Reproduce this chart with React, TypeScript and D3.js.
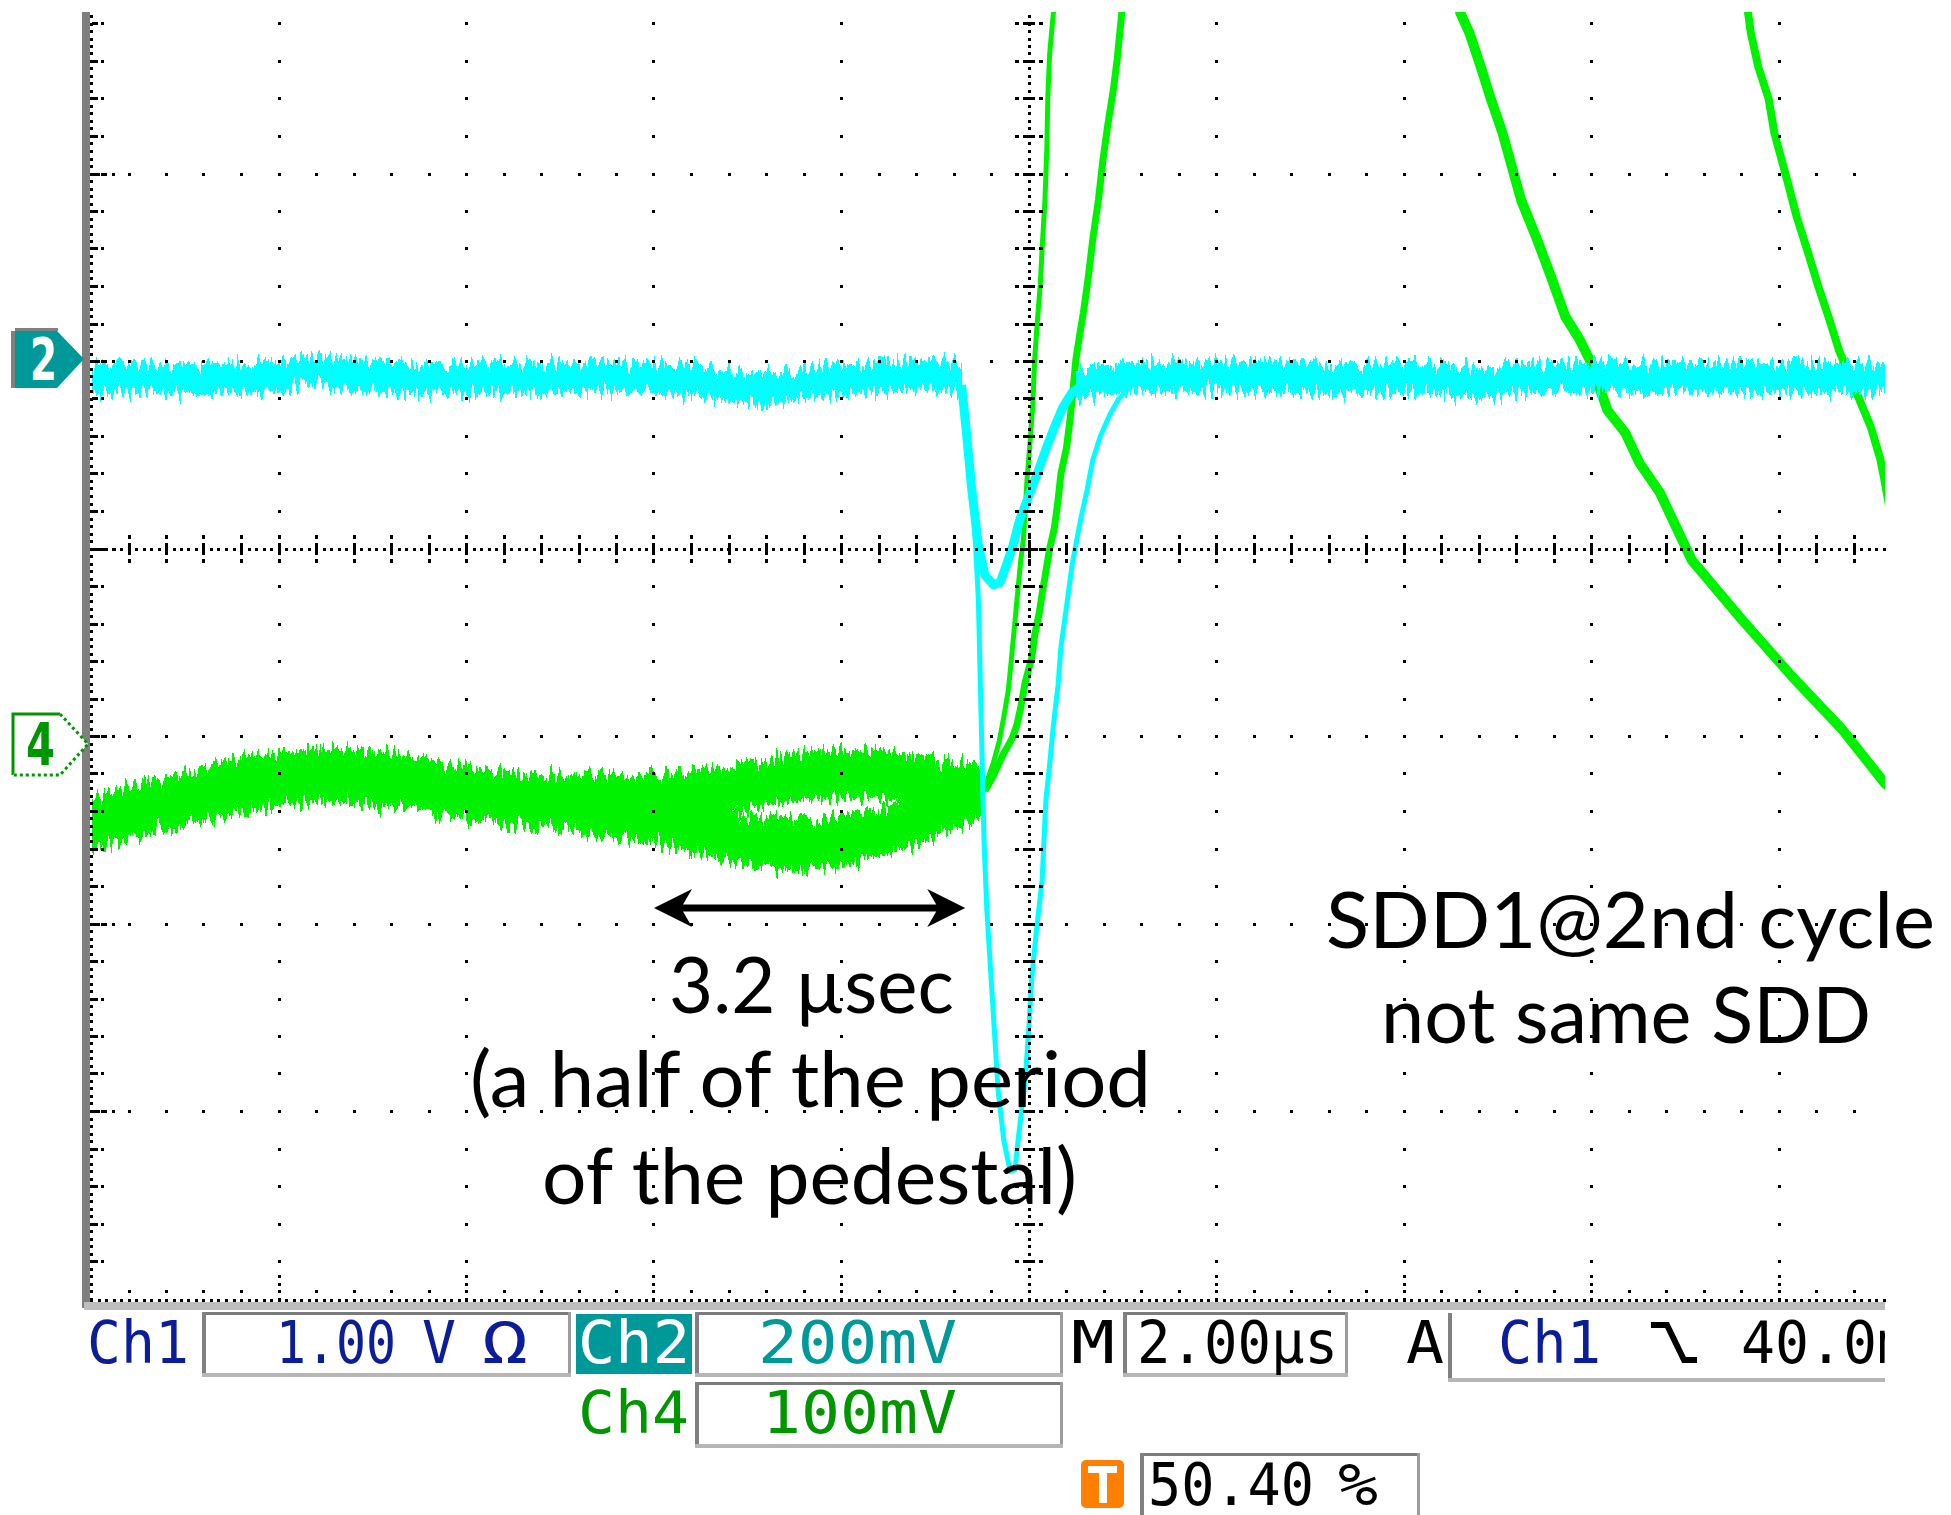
import React from 'react';
import * as d3 from 'd3';

// ---------------- scope settings ----------------
const CH2_MV_DIV = 200;
const CH4_MV_DIV = 100;
const CH2_POSITION_DIV = 1.02;
const CH4_POSITION_DIV = -1.04;

// ---------------- data (time in µs, voltage in mV) ----------------
// Ch4 pedestal, two overlapping sweeps
const PED_T = [-10, -9.6, -9.2, -8.8, -8.4, -8.0, -7.6, -7.2, -6.8, -6.4, -6.0, -5.6, -5.2, -4.8, -4.4, -4.0, -3.6, -3.2, -2.8, -2.4, -2.0, -1.6, -1.2, -0.8, -0.5];
const CH4_SWEEP_A = [-41.6, -35.7, -30.4, -25.6, -20.3, -17.1, -15.5, -15.5, -17.6, -21.3, -24.5, -27.2, -28.8, -29.9, -29.9, -29.3, -27.2, -24.0, -20.3, -17.1, -16.0, -16.0, -18.7, -21.3, -23.5];
const CH4_SWEEP_B = [-43.7, -38.4, -33.1, -28.3, -22.9, -19.7, -18.1, -18.7, -20.3, -23.5, -26.7, -29.3, -32.0, -34.1, -37.3, -40.5, -44.8, -49.6, -52.8, -53.9, -51.7, -46.9, -41.1, -32.5, -25.6];

// Ch4 rising edges after the trigger
const CH4_EDGE_A_T = [-0.52, -0.47, -0.38, -0.32, -0.27, -0.22, -0.19, -0.16, -0.13, -0.09, -0.06, -0.04, -0.02, 0.01, 0.04, 0.06, 0.09, 0.12, 0.14, 0.17, 0.19, 0.20, 0.22, 0.26, 0.28];
const CH4_EDGE_A_MV = [-30, -23, -10, 1, 14, 29, 44, 60, 76, 97, 109, 125, 142, 160, 181, 205, 226, 245, 264, 290, 317, 344, 368, 390, 405];
const CH4_EDGE_B_T = [-0.47, -0.38, -0.28, -0.18, -0.13, -0.09, -0.04, 0.03, 0.06, 0.11, 0.14, 0.18, 0.22, 0.27, 0.31, 0.34, 0.40, 0.44, 0.47, 0.50, 0.54, 0.58, 0.63, 0.68, 0.74, 0.79, 0.84, 0.90, 0.94, 0.99, 1.02];
const CH4_EDGE_B_MV = [-25, -17, -6, 3, 10, 19, 33, 46, 58, 70, 80, 92, 104, 115, 130, 144, 158, 174, 189, 205, 218, 230, 248, 269, 290, 312, 330, 349, 365, 390, 405];

// Ch4 decaying tails (2nd cycle)
const CH4_TAIL_A_T = [4.57, 4.60, 4.70, 4.82, 4.92, 5.05, 5.15, 5.25, 5.42, 5.57, 5.72, 5.87, 5.98, 6.17, 6.36, 6.51, 6.73, 7.07, 7.61, 8.14, 8.67, 9.13, 9.3];
const CH4_TAIL_A_MV = [405, 390, 379, 361, 345, 326, 308, 290, 269, 249, 228, 216, 205, 178, 166, 150, 134, 98, 66, 36, 8, -21, -28];
const CH4_TAIL_B_T = [7.65, 7.67, 7.70, 7.78, 7.89, 7.95, 8.08, 8.19, 8.31, 8.42, 8.54, 8.64, 8.83, 8.98, 9.08, 9.12, 9.2];
const CH4_TAIL_B_MV = [405, 390, 379, 361, 344, 326, 302, 281, 262, 244, 226, 210, 187, 169, 152, 142, 120];

// Ch2 baseline before and after the pulse
const CH2_PRE_T = [-10, -9.6, -9.2, -8.8, -8.4, -8.0, -7.6, -7.2, -6.8, -6.4, -6.0, -5.6, -5.2, -4.8, -4.4, -4.0, -3.6, -3.2, -2.8, -2.4, -2.0, -1.6, -1.2, -0.8, -0.72];
const CH2_PRE_MV = [-20.3, -21.3, -21.3, -22.4, -21.3, -19.2, -13.9, -19.2, -21.3, -22.4, -22.4, -21.3, -22.4, -20.3, -20.3, -21.3, -24.5, -29.9, -34.1, -26.7, -22.4, -20.3, -18.1, -19.2, -21.3];
const CH2_POST_T = [0.5, 0.8, 1.2, 1.6, 2.0, 2.4, 2.8, 3.2, 3.6, 4.0, 4.4, 4.8, 5.2, 5.6, 6.0, 6.4, 6.8, 7.2, 7.6, 8.0, 8.4, 8.8, 9.2];
const CH2_POST_MV = [-27.7, -22.4, -20.3, -19.2, -20.3, -20.3, -21.3, -22.4, -22.4, -21.3, -22.4, -28.0, -22.4, -20.3, -20.3, -21.3, -21.3, -20.3, -20.3, -20.3, -21.3, -21.3, -21.3];

// Ch2 negative pulses (two sweeps)
const CH2_SHALLOW_T = [-0.72, -0.67, -0.61, -0.54, -0.47, -0.38, -0.31, -0.24, -0.17, -0.10, -0.02, 0.09, 0.19, 0.28, 0.36, 0.46, 0.60, 0.76];
const CH2_SHALLOW_MV = [-29, -77, -141, -200, -232, -242, -240, -221, -200, -173, -152, -123, -95, -72, -53, -37, -27, -24];
const CH2_DEEP_T = [-0.72, -0.67, -0.61, -0.57, -0.54, -0.52, -0.50, -0.48, -0.45, -0.41, -0.37, -0.33, -0.27, -0.20, -0.15, -0.11, -0.04, 0.00, 0.03, 0.08, 0.14, 0.16, 0.18, 0.22, 0.26, 0.31, 0.34, 0.41, 0.46, 0.51, 0.56, 0.62, 0.68, 0.76, 0.86, 0.95, 1.06, 1.18];
const CH2_DEEP_MV = [-29, -77, -141, -200, -258, -344, -429, -514, -589, -653, -717, -781, -834, -868, -866, -829, -770, -712, -661, -610, -557, -514, -472, -434, -392, -349, -309, -258, -221, -194, -168, -141, -109, -84, -61, -45, -32, -26];

// annotation arrow (µs, div)
const ARROW_T = [-4.0, -0.68];
const ARROW_DIV = -1.915;

// readout texts
const READOUT_CH1 = 'Ch1';
const READOUT_CH1_SCALE = ['1.00', 'V', 'Ω'];
const READOUT_CH2 = 'Ch2';
const READOUT_CH2_SCALE = '200mV';
const READOUT_CH4 = 'Ch4';
const READOUT_CH4_SCALE = '100mV';
const READOUT_TIME = '2.00µs';
const READOUT_TRIG_LEVEL = '40.0mV';
const READOUT_TRIG_POS = ['50.40', '%'];

const ANNOT_LINES = ['3.2 µsec', '(a half of the period', 'of the pedestal)'];
const NOTE_LINES = ['SDD1@2nd cycle', 'not same SDD'];

const CYAN = '#00ffff';
const GREEN = '#00f200';
const TEAL = '#009999';
const BLUE = '#0b1d98';
const DKGREEN = '#009600';
const PANEL_FONT = '"DejaVu Sans Mono", monospace';
const ANNOT_FONT = 'Lato, "Open Sans", sans-serif';

function Box({ x, y, w, h, top = true, right = true }: any) {
  return (
    <g>
      {top && <rect x={x} y={y} width={w} height={3} fill="#7b7b7b" />}
      <rect x={x} y={y} width={4} height={h} fill="#808080" />
      {right && <rect x={x + w - 3} y={y} width={3} height={h} fill="#9c9c9c" />}
      <rect x={x} y={y + h - 4} width={w} height={4} fill="#b6b6b6" />
    </g>
  );
}

export default function App() {
  const xS = d3.scaleLinear().domain([-10, 10]).range([91.5, 1966.5]);
  const yS = d3.scaleLinear().domain([-4, 4]).range([1299, -201]);
  const y2 = d3.scaleLinear().domain([(-4 - CH2_POSITION_DIV) * CH2_MV_DIV, (4 - CH2_POSITION_DIV) * CH2_MV_DIV]).range([1299, -201]);
  const y4 = d3.scaleLinear().domain([(-4 - CH4_POSITION_DIV) * CH4_MV_DIV, (4 - CH4_POSITION_DIV) * CH4_MV_DIV]).range([1299, -201]);

  const band = (ts: number[], vs: number[], ys: any, half: number) =>
    d3.area<number>().x((_, i) => xS(ts[i])).y0((_, i) => ys(vs[i]) - half).y1((_, i) => ys(vs[i]) + half)(ts) || '';
  const line = (ts: number[], vs: number[], ys: any) =>
    d3.line<number>().x((_, i) => xS(ts[i])).y((_, i) => ys(vs[i]))(ts) || '';

  // ---------- graticule ----------
  const pts: string[] = [];
  const sq = (cx: number, cy: number, w = 3, h = 3) => {
    pts.push(`M${Math.round(cx - w / 2)},${Math.round(cy - h / 2)}h${w}v${h}h${-w}z`);
  };
  const xRight = 1885;
  const yTop = 12;
  const tMax = xS.invert(xRight);
  const dMax = yS.invert(yTop + 2);
  const x0 = xS(0);
  const yc = yS(0);
  const xL = xS(-10);
  const yB = yS(-4);
  for (let k = 0; ; k++) {
    const d = -4 + k * 0.04;
    if (d > dMax) break;
    const y = yS(d);
    sq(xL, y);
    sq(x0, y);
  }
  for (let k = 0; ; k++) {
    const d = -4 + k * 0.2;
    if (d > dMax) break;
    const y = yS(d);
    if (k > 0) {
      sq(xL + 3, y, 6, 3);
      sq(xL + 10.5, y);
      sq(x0 - 12, y, 4, 3);
      sq(x0, y, 12, 3);
      sq(x0 + 12, y, 4, 3);
    }
    for (let t = -8; t <= 8; t += 2) if (t !== 0) sq(xS(t), y);
  }
  for (let d = -3; d <= 2; d++) {
    const y = yS(d);
    sq(xL + 6.5, y);
    sq(xL + 14, y);
    sq(xL + 21.5, y);
    if (d === 0) continue;
    for (let k = 1; ; k++) {
      const t = -10 + k * 0.4;
      if (t > tMax) break;
      sq(xS(t), y);
    }
  }
  for (let k = 0; ; k++) {
    const t = -10 + k * 0.08;
    if (t > tMax) break;
    const x = xS(t);
    sq(x, yc);
    sq(x, yB + 1);
  }
  for (let k = 1; ; k++) {
    const t = -10 + k * 0.4;
    if (t > tMax) break;
    const x = xS(t);
    sq(x, yc - 12, 3, 4);
    sq(x, yc, 3, 12);
    sq(x, yc + 12, 3, 4);
    sq(x, yB - 7.5);
    if (k % 5 === 0) {
      sq(x, yB - 15);
      sq(x, yB - 22.5);
    }
  }
  const gridPath = pts.join('');

  // arrow
  const ax0 = xS(ARROW_T[0]);
  const ax1 = xS(ARROW_T[1]);
  const ay = yS(ARROW_DIV);
  const headL = 38, headH = 19, notch = 9;
  const arrowPath =
    `M${ax0},${ay}L${ax0 + headL},${ay - headH}L${ax0 + headL - notch},${ay - 3.5}` +
    `L${ax1 - headL + notch},${ay - 3.5}L${ax1 - headL},${ay - headH}L${ax1},${ay}` +
    `L${ax1 - headL},${ay + headH}L${ax1 - headL + notch},${ay + 3.5}` +
    `L${ax0 + headL - notch},${ay + 3.5}L${ax0 + headL},${ay + headH}Z`;

  const panelText = (txt: string, x: number, y: number, len: number, fill: string) => (
    <text x={x} y={y} textLength={len} lengthAdjust="spacingAndGlyphs" fill={fill}
      style={{ fontFamily: PANEL_FONT, fontSize: 58 }}>{txt}</text>
  );

  return (
    <svg width={1951} height={1515} viewBox="0 0 1951 1515"
      style={{ position: 'absolute', left: 0, top: 0, background: '#fff' }}>
      <defs>
        <clipPath id="plotClip">
          <rect x={91} y={yTop} width={xRight - 91} height={1300 - yTop} />
        </clipPath>
        <clipPath id="rightClip">
          <rect x={0} y={0} width={xRight} height={1515} />
        </clipPath>
        <filter id="noise" filterUnits="userSpaceOnUse" x={0} y={0} width={1951} height={1515}
          colorInterpolationFilters="sRGB">
          <feTurbulence type="fractalNoise" baseFrequency="0.28 0.02" numOctaves={3} seed={7} result="n" />
          <feColorMatrix in="n" type="matrix" values="0 0 0 0 0.5  0 1 0 0 0  0 0 0 0 0  0 0 0 0 1" result="d" />
          <feDisplacementMap in="SourceGraphic" in2="d" scale={34} xChannelSelector="R" yChannelSelector="G" />
        </filter>
      </defs>
      <rect x={0} y={0} width={1951} height={1515} fill="#fff" />

      {/* frame bars */}
      <rect x={82} y={12} width={8} height={1296} fill="#7f7f7f" />
      <rect x={84} y={1302} width={xRight - 84} height={8} fill="#bdbdbd" />

      {/* traces */}
      <g clipPath="url(#plotClip)">
        <g filter="url(#noise)" shapeRendering="crispEdges">
          <path d={band(PED_T, CH4_SWEEP_A, y4, 24)} fill={GREEN} />
          <path d={band(PED_T, CH4_SWEEP_B, y4, 24)} fill={GREEN} />
        </g>
        <g fill="none" stroke={GREEN} strokeLinejoin="round">
          <path d={line(CH4_EDGE_A_T, CH4_EDGE_A_MV, y4)} strokeWidth={5} />
          <path d={line(CH4_EDGE_B_T, CH4_EDGE_B_MV, y4)} strokeWidth={7} />
          <path d={line(CH4_TAIL_A_T, CH4_TAIL_A_MV, y4)} strokeWidth={10} />
          <path d={line(CH4_TAIL_B_T, CH4_TAIL_B_MV, y4)} strokeWidth={8} />
        </g>
        <g filter="url(#noise)" shapeRendering="crispEdges">
          <path d={band(CH2_PRE_T, CH2_PRE_MV, y2, 15)} fill={CYAN} />
          <path d={band(CH2_POST_T, CH2_POST_MV, y2, 15)} fill={CYAN} />
        </g>
        <g fill="none" stroke={CYAN} strokeLinejoin="round">
          <path d={line(CH2_SHALLOW_T, CH2_SHALLOW_MV, y2)} strokeWidth={9} />
          <path d={line(CH2_DEEP_T, CH2_DEEP_MV, y2)} strokeWidth={5} />
        </g>
      </g>

      {/* graticule */}
      <path d={gridPath} fill="#000" shapeRendering="crispEdges" />

      {/* channel markers */}
      <g>
        <polygon points="15,331 57,331 84,359 57,388 15,388" fill={TEAL} />
        <rect x={11} y={331} width={4} height={57} fill="#808080" />
        <rect x={15} y={328} width={43} height={3} fill="#808080" />
        <text x={30} y={380} textLength={27} lengthAdjust="spacingAndGlyphs" fill="#fff"
          style={{ fontFamily: '"DejaVu Sans", sans-serif', fontSize: 58, fontWeight: 700 }}>2</text>
      </g>
      <g>
        <polyline points="60,714 13,714 13,775" fill="none" stroke={DKGREEN} strokeWidth={3} />
        <polyline points="60,714 88,744 60,775 13,775" fill="#fff" stroke={DKGREEN} strokeWidth={3} strokeDasharray="3 3" />
        <text x={26} y={765} textLength={29} lengthAdjust="spacingAndGlyphs" fill={DKGREEN}
          style={{ fontFamily: '"DejaVu Sans", sans-serif', fontSize: 58, fontWeight: 700 }}>4</text>
      </g>

      {/* annotations */}
      <path d={arrowPath} fill="#000" />
      <g fill="#000" style={{ fontFamily: ANNOT_FONT, fontSize: 78 }}>
        <text x={669} y={1013} textLength={285} lengthAdjust="spacingAndGlyphs">{ANNOT_LINES[0]}</text>
        <text x={470} y={1107} textLength={681} lengthAdjust="spacingAndGlyphs">{ANNOT_LINES[1]}</text>
        <text x={542} y={1204} textLength={535} lengthAdjust="spacingAndGlyphs">{ANNOT_LINES[2]}</text>
        <text x={1326} y={948} textLength={609} lengthAdjust="spacingAndGlyphs">{NOTE_LINES[0]}</text>
        <text x={1381} y={1043} textLength={490} lengthAdjust="spacingAndGlyphs">{NOTE_LINES[1]}</text>
      </g>

      {/* readout panel */}
      <g>
        {panelText(READOUT_CH1, 87, 1363, 102, BLUE)}
        <Box x={202} y={1312} w={369} h={65} />
        {panelText(READOUT_CH1_SCALE[0], 276, 1363, 120, BLUE)}
        {panelText(READOUT_CH1_SCALE[1], 422, 1363, 34, BLUE)}
        {panelText(READOUT_CH1_SCALE[2], 482, 1363, 46, BLUE)}

        <rect x={576} y={1314} width={116} height={60} fill={TEAL} />
        {panelText(READOUT_CH2, 578, 1363, 112, '#fff')}
        <Box x={695} y={1312} w={368} h={65} />
        {panelText(READOUT_CH2_SCALE, 758, 1363, 199, TEAL)}

        {panelText('M', 1071, 1363, 44, '#000')}
        <Box x={1123} y={1312} w={225} h={65} />
        {panelText(READOUT_TIME, 1137, 1363, 201, '#000')}

        {panelText('A', 1406, 1363, 38, '#000')}
        <g clipPath="url(#rightClip)">
          <Box x={1448} y={1313} w={500} h={69} top={false} right={false} />
          {panelText(READOUT_CH1, 1498, 1363, 103, BLUE)}
          <polyline points="1651,1325 1667,1325 1684,1360 1697,1360" fill="none" stroke="#000" strokeWidth={6} />
          {panelText(READOUT_TRIG_LEVEL, 1741, 1363, 204, '#000')}
        </g>

        {panelText(READOUT_CH4, 578, 1433, 111, DKGREEN)}
        <Box x={695} y={1382} w={368} h={66} />
        {panelText(READOUT_CH4_SCALE, 762, 1433, 195, DKGREEN)}

        <rect x={1081} y={1460} width={43} height={48} rx={5} fill="#ff8000" />
        <rect x={1088} y={1466} width={29} height={7} fill="#fff" />
        <rect x={1099} y={1466} width={8} height={37} fill="#fff" />
        <Box x={1140} y={1453} w={280} h={80} />
        {panelText(READOUT_TRIG_POS[0], 1148, 1505, 166, '#000')}
        {panelText(READOUT_TRIG_POS[1], 1338, 1505, 40, '#000')}
      </g>
    </svg>
  );
}
